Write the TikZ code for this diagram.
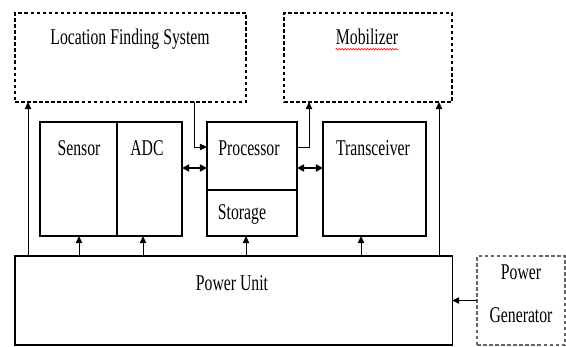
\documentclass[tikz,border=0pt]{standalone}
\usepackage{fontspec}
\setmainfont{Liberation Serif}
\usepackage{graphicx}
\usetikzlibrary{arrows.meta,decorations.pathmorphing}
\newcommand{\narrow}[1]{\scalebox{0.7}[1]{#1}}

\begin{document}
\begin{tikzpicture}[x=0.025cm,y=-0.025cm,
  blk/.style={draw,line width=0.8pt,inner sep=0pt,outer sep=0pt,anchor=north west},
  dblk/.style={blk,line width=1pt,dash pattern=on 2.5pt off 1.8pt},
  lbl/.style={anchor=base,inner sep=0pt,font=\fontsize{16}{19}\selectfont},
  arr/.style={-{Triangle[length=5pt,width=4.5pt]},line width=0.7pt},
  darr/.style={{Triangle[length=5pt,width=5pt]}-{Triangle[length=5pt,width=5pt]},line width=1.2pt}]
\useasboundingbox (0,0) rectangle (566,347);

% dashed outer units
\node[dblk,minimum width=5.775cm,minimum height=2.225cm] (lfs) at (15,13) {};
\node[lbl] (lfstext) at (130,45) {\narrow{Location Finding System}};
\node[dblk,minimum width=4.2cm,minimum height=2.225cm] (mob) at (284,13) {};
\node[lbl] (mobtext) at (367,45) {\narrow{Mobilizer}};
\draw[red,line width=0.4pt,decorate,decoration={snake,amplitude=0.6pt,segment length=2pt}]
  ([yshift=-3pt]mobtext.base west) -- ([yshift=-3pt]mobtext.base east);

% sensing unit
\node[blk,minimum width=1.925cm,minimum height=2.85cm] (sensor) at (40,122) {};
\node[lbl] (sensortext) at (79,156) {\narrow{Sensor}};
\node[blk,minimum width=1.625cm,minimum height=2.85cm] (adc) at (117,122) {};
\node[lbl] (adctext) at (147,156) {\narrow{ADC}};

% processing unit
\node[blk,minimum width=2.25cm,minimum height=1.7cm] (proc) at (207,122) {};
\node[lbl] (proctext) at (249,156) {\narrow{Processor}};
\node[blk,minimum width=2.25cm,minimum height=1.15cm] (store) at (207,190) {};
\node[lbl] (storetext) at (242,220) {\narrow{Storage}};

% transceiver
\node[blk,minimum width=2.575cm,minimum height=2.85cm] (trans) at (323,122) {};
\node[lbl] (transtext) at (373,156) {\narrow{Transceiver}};

% power
\node[blk,minimum width=10.925cm,minimum height=2.225cm] (pu) at (15,256) {};
\node[lbl] (putext) at (232,290) {\narrow{Power Unit}};
\node[blk,draw=black!60,line width=0.8pt,dash pattern=on 2.5pt off 1.8pt,
  minimum width=2.2cm,minimum height=2.225cm] (pg) at (477,256) {};
\node[lbl,align=center,font=\fontsize{16}{30}\selectfont] (pgtext) at (521,322)
  {\narrow{Power}\\\narrow{Generator}};

\coordinate (c1) at (28,0);
\coordinate (c2) at (79,0);
\coordinate (c3) at (143,0);
\coordinate (c4) at (246,0);
\coordinate (c5) at (361,0);
\coordinate (c6) at (439,0);
\coordinate (c7) at (194,0);
\coordinate (c8) at (309,0);
\coordinate (r1) at (0,147);
\coordinate (r2) at (0,168);

\draw[arr] (c1 |- pu.north) -- (c1 |- lfs.south);
\draw[arr] (c2 |- pu.north) -- (c2 |- sensor.south);
\draw[arr] (c3 |- pu.north) -- (c3 |- adc.south);
\draw[arr] (c4 |- pu.north) -- (c4 |- store.south);
\draw[arr] (c5 |- pu.north) -- (c5 |- trans.south);
\draw[arr] (c6 |- pu.north) -- (c6 |- mob.south);
\draw[arr] (pg.west) -- (pg.west -| pu.east);

\draw[arr] (c7 |- lfs.south) |- (r1 -| proc.west);
\draw[arr] (r1 -| proc.east) -| (c8 |- mob.south);
\draw[darr] (r2 -| adc.east) -- (r2 -| proc.west);
\draw[darr] (r2 -| proc.east) -- (r2 -| trans.west);

\end{tikzpicture}
\end{document}
